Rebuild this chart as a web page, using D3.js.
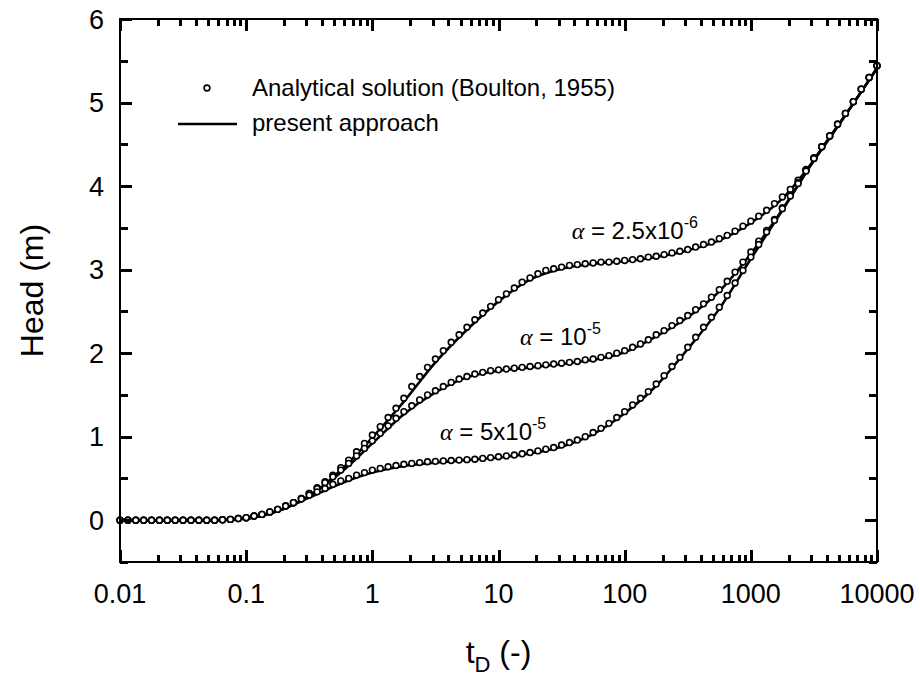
<!DOCTYPE html>
<html>
<head>
<meta charset="utf-8">
<script src="https://cdn.jsdelivr.net/npm/d3@7"></script>
<style>
  body { margin: 0; background: #fff; }
  text { font-family: "Liberation Sans", Arial, sans-serif; fill: #000; }
</style>
</head>
<body>
<svg id="drawspace" width="920" height="679"></svg>
<script>
// sample times of the analytical points: 16 per decade
const mant = [1, 1.155, 1.334, 1.540, 1.778, 2.054, 2.371, 2.738, 3.162, 3.652, 4.217, 4.870, 5.623, 6.494, 7.499, 8.660];
const decades = [0.01, 0.1, 1, 10, 100, 1000];

// analytical solution (Boulton, 1955), head in m
const headA = [0,0,0,0,0,0,0,0,0,0,0,0,0,
  0.005,0.01,0.02,0.03,0.05,0.07,0.10,0.13,0.17,0.21,0.26,0.32,
  0.39,0.46,0.54,0.63,0.72,0.82,0.92,1.02,
  1.12,1.23,1.34,1.46,1.60,1.72,1.83,1.93,
  2.03,2.13,2.22,2.31,2.40,2.48,2.56,2.64,
  2.71,2.78,2.85,2.90,2.95,2.99,3.01,3.03,
  3.05,3.06,3.07,3.08,3.09,3.09,3.10,3.11,
  3.12,3.13,3.15,3.16,3.18,3.20,3.22,3.24,
  3.27,3.30,3.33,3.37,3.41,3.46,3.52,3.58,
  3.64,3.71,3.79,3.87,3.96,4.07,4.20,4.34,
  4.47,4.60,4.74,4.87,5.01,5.16,5.30,5.44];
const headB = [0,0,0,0,0,0,0,0,0,0,0,0,0,
  0.005,0.01,0.02,0.03,0.05,0.07,0.10,0.13,0.17,0.21,0.26,0.32,
  0.38,0.45,0.52,0.60,0.68,0.77,0.86,0.95,
  1.04,1.13,1.22,1.30,1.37,1.44,1.50,1.55,
  1.60,1.65,1.69,1.72,1.75,1.77,1.79,1.80,
  1.81,1.82,1.83,1.84,1.85,1.86,1.87,1.88,
  1.89,1.90,1.92,1.93,1.95,1.97,2.00,2.03,
  2.07,2.11,2.16,2.22,2.27,2.33,2.39,2.45,
  2.52,2.59,2.67,2.76,2.86,2.97,3.09,3.21,
  3.34,3.47,3.60,3.74,3.89,4.04,4.19,4.33,
  4.47,4.60,4.74,4.87,5.01,5.16,5.30,5.44];
const headC = [0,0,0,0,0,0,0,0,0,0,0,0,0,
  0.005,0.01,0.02,0.03,0.05,0.07,0.10,0.13,0.17,0.21,0.255,0.30,
  0.34,0.38,0.43,0.47,0.50,0.54,0.57,0.60,
  0.62,0.64,0.655,0.67,0.68,0.69,0.70,0.705,
  0.71,0.715,0.72,0.725,0.73,0.74,0.75,0.76,
  0.77,0.78,0.795,0.81,0.83,0.85,0.87,0.90,
  0.93,0.96,1.00,1.05,1.10,1.16,1.23,1.30,
  1.38,1.46,1.54,1.63,1.73,1.84,1.95,2.07,
  2.19,2.31,2.43,2.55,2.69,2.84,2.99,3.15,
  3.30,3.45,3.59,3.73,3.88,4.03,4.18,4.33,
  4.47,4.60,4.74,4.87,5.01,5.16,5.30,5.44];

// present approach, 4 points per decade
const lineMant = [1, 1.778, 3.162, 5.623];
const lineA = [0,0,0,0, 0.02,0.11,0.29,0.60, 0.99,1.42,1.89,2.28, 2.62,2.88,3.01,3.07, 3.10,3.15,3.23,3.35, 3.56,3.85,4.31,4.85, 5.41];
const lineB = [0,0,0,0, 0.02,0.11,0.29,0.57, 0.92,1.27,1.53,1.71, 1.79,1.83,1.87,1.92, 2.01,2.20,2.43,2.74, 3.19,3.72,4.31,4.85, 5.41];
const lineC = [0,0,0,0, 0.02,0.11,0.27,0.44, 0.57,0.65,0.69,0.72, 0.75,0.80,0.88,1.03, 1.28,1.61,2.05,2.53, 3.13,3.71,4.31,4.85, 5.41];

const xTicks = [0.01, 0.1, 1, 10, 100, 1000, 10000];
const xTickLabels = ["0.01", "0.1", "1", "10", "100", "1000", "10000"];
const yTicks = [0, 1, 2, 3, 4, 5, 6];
const yMinor = [-0.5, 0.5, 1.5, 2.5, 3.5, 4.5, 5.5];

const annotations = [
  { base: "2.5x10", exp: "-6", t: 38, h: 3.37 },
  { base: "10", exp: "-5", t: 14.8, h: 2.10 },
  { base: "5x10", exp: "-5", t: 3.44, h: 0.96 }
];

let drawSpace = d3.select("#drawspace");

let mLeft = 120, mRight = 877, mTop = 19, mBottom = 562;

let xScale = d3.scaleLog().domain([0.01, 10000]).range([mLeft, mRight]);
let yScale = d3.scaleLinear().domain([-0.5, 6]).range([mBottom, mTop]);

let tD = decades.flatMap(d => mant.map(m => d * m)).concat([10000]);
let tLine = decades.flatMap(d => lineMant.map(m => d * m)).concat([10000]);

let xMinor = [];
for (let d of decades) for (let k = 2; k <= 9; k++) xMinor.push(d * k);

// tick labels
drawSpace.append("g").selectAll("text").data(xTicks).enter().append("text")
  .attr("x", d => xScale(d)).attr("y", 603)
  .attr("text-anchor", "middle").attr("font-size", 27)
  .text((d, i) => xTickLabels[i]);
drawSpace.append("g").selectAll("text").data(yTicks).enter().append("text")
  .attr("x", 104).attr("y", d => yScale(d)).attr("dy", "0.36em")
  .attr("text-anchor", "end").attr("font-size", 27)
  .text(d => d3.format("d")(d));

// axis titles
drawSpace.append("text")
  .attr("transform", "translate(43," + ((mTop + mBottom) / 2) + ") rotate(-90)")
  .attr("text-anchor", "middle").attr("font-size", 32)
  .text("Head (m)");

let xt = drawSpace.append("text")
  .attr("x", (mLeft + mRight) / 2).attr("y", 663)
  .attr("text-anchor", "middle").attr("font-size", 32);
xt.append("tspan").text("t");
xt.append("tspan").attr("font-size", 22).attr("dy", 9).text("D");
xt.append("tspan").attr("dy", -9).text(" (-)");

// lines
let line = d3.line()
  .x((d, i) => xScale(tLine[i]))
  .y(d => yScale(d))
  .curve(d3.curveMonotoneX);

for (let s of [lineA, lineB, lineC]) {
  drawSpace.append("path")
    .attr("d", line(s))
    .attr("fill", "none").attr("stroke", "#000").attr("stroke-width", 2.6);
}

// analytical points
for (let s of [headA, headB, headC]) {
  drawSpace.append("g")
    .selectAll("circle")
    .data(s)
    .enter()
    .append("circle")
    .attr("cx", (d, i) => xScale(tD[i]))
    .attr("cy", d => yScale(d))
    .attr("r", 2.9)
    .attr("fill", "#fff").attr("stroke", "#000").attr("stroke-width", 1.6);
}

// legend
drawSpace.append("circle")
  .attr("cx", 207).attr("cy", 88).attr("r", 2.9)
  .attr("fill", "#fff").attr("stroke", "#000").attr("stroke-width", 1.6);
drawSpace.append("text").attr("x", 252).attr("y", 96).attr("font-size", 24)
  .text("Analytical solution (Boulton, 1955)");
drawSpace.append("line")
  .attr("x1", 178).attr("x2", 237).attr("y1", 124).attr("y2", 124)
  .attr("stroke", "#000").attr("stroke-width", 2.6);
drawSpace.append("text").attr("x", 252).attr("y", 131).attr("font-size", 24)
  .text("present approach");

// alpha labels
for (let a of annotations) {
  let t = drawSpace.append("text")
    .attr("x", xScale(a.t)).attr("y", yScale(a.h))
    .attr("font-size", 24);
  t.append("tspan").attr("font-family", "'Liberation Serif', 'Times New Roman', serif")
    .attr("font-style", "italic").text("\u03b1");
  t.append("tspan").text(" = " + a.base);
  t.append("tspan").attr("font-size", 16).attr("dy", -11).text(a.exp);
}

// frame and inward ticks, drawn last so nothing covers them
let axisG = drawSpace.append("g").attr("shape-rendering", "crispEdges");
axisG.append("rect")
  .attr("x", mLeft).attr("y", mTop)
  .attr("width", mRight - mLeft).attr("height", mBottom - mTop)
  .attr("fill", "none").attr("stroke", "#000").attr("stroke-width", 2.6);

let xTickRows = [];
for (let v of xTicks) xTickRows.push({ v: v, len: 12 });
for (let v of xMinor) xTickRows.push({ v: v, len: 7 });
let yTickRows = [];
for (let v of yTicks) yTickRows.push({ v: v, len: 12 });
for (let v of yMinor) yTickRows.push({ v: v, len: 8 });

axisG.selectAll("rect.xb").data(xTickRows).enter().append("rect").attr("class", "xb")
  .attr("x", d => Math.round(xScale(d.v)) - 1).attr("y", mBottom - d3.max([0]) - 0)
  .attr("y", d => mBottom - d.len).attr("width", 2.5).attr("height", d => d.len)
  .attr("fill", "#000");
axisG.selectAll("rect.xt").data(xTickRows).enter().append("rect").attr("class", "xt")
  .attr("x", d => Math.round(xScale(d.v)) - 1).attr("y", mTop)
  .attr("width", 2.5).attr("height", d => d.len)
  .attr("fill", "#000");
axisG.selectAll("rect.yl").data(yTickRows).enter().append("rect").attr("class", "yl")
  .attr("x", mLeft).attr("y", d => Math.round(yScale(d.v)) - 1)
  .attr("width", d => d.len).attr("height", 2.5)
  .attr("fill", "#000");
axisG.selectAll("rect.yr").data(yTickRows).enter().append("rect").attr("class", "yr")
  .attr("x", d => mRight - d.len).attr("y", d => Math.round(yScale(d.v)) - 1)
  .attr("width", d => d.len).attr("height", 2.5)
  .attr("fill", "#000");
</script>
</body>
</html>
